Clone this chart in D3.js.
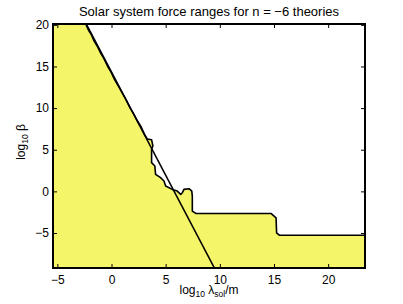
<!DOCTYPE html>
<html>
<head>
<meta charset="utf-8">
<script src="https://cdn.jsdelivr.net/npm/d3@7"></script>
<style>
  body { margin: 0; background: #fff; }
  text { font-family: "Liberation Sans", Arial, sans-serif; }
</style>
</head>
<body>
<div id="chart"></div>
<script>
// allowed region boundary (log10 lambda, log10 beta)
const boundaryX = [-2.38, -2.1, -1.85, -1.6, -1.3, -1.0, -0.7, -0.35, -0.05, 0.3, 0.65, 1.0, 1.35, 1.7, 2.05, 2.4, 2.75, 3.05, 3.3, 3.7, 3.82, 3.7, 3.7, 4.0, 4.07, 4.53, 4.84, 5.0, 5.61, 6.07, 6.39, 6.54, 6.69, 7.16, 7.41, 7.46, 7.46, 7.78, 14.72, 15.19, 15.24, 15.49, 23.4];
const boundaryY = [20.1, 19.3, 18.8, 18.05, 17.4, 16.6, 15.95, 15.0, 14.35, 13.4, 12.6, 11.8, 11.0, 10.05, 9.3, 8.45, 7.7, 6.85, 6.3, 6.2, 5.46, 5.06, 3.45, 3.05, 2.05, 1.65, 1.24, 0.64, 0.24, 0.04, -0.36, -0.16, 0.24, 0.32, 0.04, -0.56, -2.37, -2.65, -2.65, -3.17, -4.98, -5.26, -5.26];
// straight line
const lineX = [-2.33, 9.5];
const lineY = [20.1, -9.2];
const xTicks = [-5, 0, 5, 10, 15, 20];
const yTicks = [-5, 0, 5, 10, 15, 20];

const W = 403, H = 304;
const mLeft = 53, mRight = 365, mTop = 24, mBottom = 268;
const xDomain = [-5.4, 23.4], yDomain = [-9.2, 20.1];

const svg = d3.select('#chart').append('svg')
  .attr('width', W).attr('height', H);

const x = d3.scaleLinear().domain(xDomain).range([mLeft, mRight]);
const y = d3.scaleLinear().domain(yDomain).range([mBottom, mTop]);

svg.append('clipPath').attr('id', 'clip')
  .append('rect').attr('x', mLeft).attr('y', mTop)
  .attr('width', mRight - mLeft).attr('height', mBottom - mTop);

const g = svg.append('g').attr('clip-path', 'url(#clip)');
const line = d3.line().x(d => x(d[0])).y(d => y(d[1]));
const bpts = boundaryX.map((d, i) => [d, boundaryY[i]]);

// yellow polygon: top-left corner -> boundary -> bottom-right -> bottom-left
const poly = [[xDomain[0], yDomain[1]]]
  .concat(bpts)
  .concat([[xDomain[1], yDomain[0]], [xDomain[0], yDomain[0]]]);

g.append('path')
  .attr('d', line(poly) + 'Z')
  .attr('fill', '#f5f56a');

g.append('path')
  .attr('d', line(bpts))
  .attr('fill', 'none').attr('stroke', '#000').attr('stroke-width', 1.6)
  .attr('stroke-linejoin', 'round');

g.append('path')
  .attr('d', line(lineX.map((d, i) => [d, lineY[i]])))
  .attr('fill', 'none').attr('stroke', '#000').attr('stroke-width', 1.6);

// axes with inward ticks on all sides
const fmt = d => d < 0 ? '\u2212' + Math.abs(d) : String(d);
const tl = 4;
const axB = svg.append('g').attr('transform', `translate(0,${mBottom})`)
  .call(d3.axisBottom(x).tickValues(xTicks).tickSize(-tl).tickPadding(7).tickFormat(fmt));
const axT = svg.append('g').attr('transform', `translate(0,${mTop})`)
  .call(d3.axisTop(x).tickValues(xTicks).tickSize(-tl).tickFormat(''));
const axL = svg.append('g').attr('transform', `translate(${mLeft},0)`)
  .call(d3.axisLeft(y).tickValues(yTicks).tickSize(-tl).tickPadding(4).tickFormat(fmt));
const axR = svg.append('g').attr('transform', `translate(${mRight},0)`)
  .call(d3.axisRight(y).tickValues(yTicks).tickSize(-tl).tickFormat(''));

[axB, axT, axL, axR].forEach(a => {
  a.select('.domain').remove();
  a.selectAll('line').attr('stroke', '#000').attr('stroke-width', 1);
  a.selectAll('text').attr('font-size', 12).attr('fill', '#000')
    .style('font-family', '"Liberation Sans", Arial, sans-serif');
});

svg.append('rect')
  .attr('x', mLeft).attr('y', mTop)
  .attr('width', mRight - mLeft).attr('height', mBottom - mTop)
  .attr('fill', 'none').attr('stroke', '#000').attr('stroke-width', 2);

// title and labels
svg.append('text').attr('x', 209).attr('y', 16)
  .attr('text-anchor', 'middle').attr('font-size', 13)
  .text('Solar system force ranges for n = \u22126 theories');

const xl = svg.append('text').attr('x', 209).attr('y', 294)
  .attr('text-anchor', 'middle').attr('font-size', 12);
xl.append('tspan').text('log');
xl.append('tspan').attr('font-size', 8.5).attr('dy', 3).text('10');
xl.append('tspan').attr('dy', -3).text(' \u03bb');
xl.append('tspan').attr('font-size', 8.5).attr('dy', 3).text('sol');
xl.append('tspan').attr('dy', -3).text('/m');

const yl = svg.append('text')
  .attr('transform', `translate(25,142) rotate(-90)`)
  .attr('text-anchor', 'middle').attr('font-size', 12);
yl.append('tspan').text('log');
yl.append('tspan').attr('font-size', 8.5).attr('dy', 3).text('10');
yl.append('tspan').attr('dy', -3).text(' \u03b2');
</script>
</body>
</html>
